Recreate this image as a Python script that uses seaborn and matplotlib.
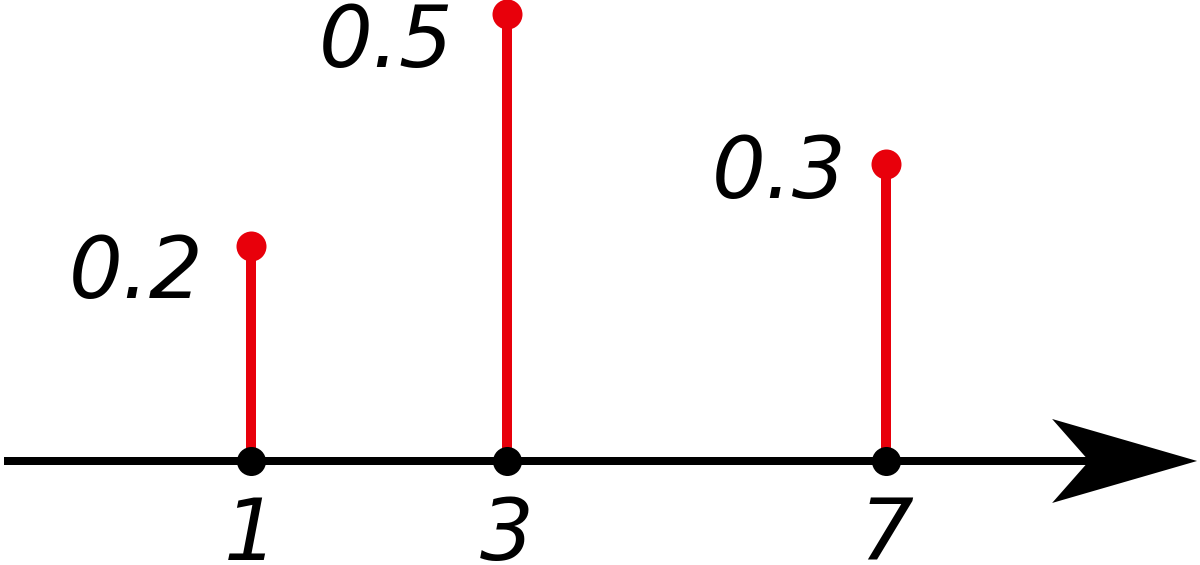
import numpy as np
import pandas as pd
import matplotlib
matplotlib.use("Agg")
import matplotlib.pyplot as plt
import seaborn as sns
from matplotlib.patches import Polygon
from matplotlib.transforms import IdentityTransform

# ---- data ----
outcomes = [1, 3, 7]
probabilities = [0.2, 0.5, 0.3]
prob_labels = ["0.2", "0.5", "0.3"]
tick_labels = ["1", "3", "7"]

# ---- style / layout ----
RED = "#e8000b"
label_offsets_px = [(-47, -52), (-53, -53), (-39, -34)]  # text offsets from dot (pixels)

sns.set_theme(style="white")
plt.rcParams["font.family"] = ["DejaVu Sans"]

df = pd.DataFrame({"outcome": outcomes, "probability": probabilities})
df["zero"] = 0.0

fig = plt.figure(figsize=(12, 5.65), dpi=100)
ax = fig.add_axes([0, 0, 1, 1])

def fwd(p):
    return lambda a: np.sign(a) * np.abs(a) ** p

def inv(p):
    return lambda a: np.sign(a) * np.abs(a) ** (1.0 / p)

ax.set_xscale("function", functions=(fwd(0.68), inv(0.68)))
ax.set_yscale("function", functions=(fwd(0.8), inv(0.8)))

# baseline axis (ends inside the arrow head)
axis_end = 11.0
ax.plot([-0.021, 9.9], [0, 0], color="black", lw=5.76,
        solid_capstyle="butt", zorder=1)

# stems
ax.vlines(df["outcome"], 0, df["probability"], color=RED, lw=7.2, zorder=2)

# red heads
sns.scatterplot(data=df, x="outcome", y="probability", ax=ax, color=RED,
                s=21.6 ** 2, linewidth=0, zorder=3, legend=False)
# black base dots
sns.scatterplot(data=df, x="outcome", y="zero", ax=ax, color="black",
                s=20.9 ** 2, linewidth=0, zorder=4, legend=False)
ax.set_xlim(-0.0285, 11.04)
ax.set_ylim(-0.0808, 0.5195)
ax.axis("off")

# probability labels
for x, p, lab, (dx, dy) in zip(outcomes, probabilities, prob_labels, label_offsets_px):
    ax.annotate(lab, (x, p), xytext=(dx, dy), textcoords="offset pixels",
                ha="right", va="baseline", fontsize=61, style="italic",
                color="black")

# outcome tick labels
for x, t in zip(outcomes, tick_labels):
    ax.annotate(t, (x, 0), xytext=(0, -99), textcoords="offset pixels",
                ha="center", va="baseline", fontsize=61, style="italic",
                color="black")

# arrow head (notched)
tip = ax.transData.transform((axis_end, 0))
verts = tip + np.array([[0, 0], [-145, 42], [-108, 0], [-145, -42]])
fig.add_artist(Polygon(verts, closed=True, transform=IdentityTransform(),
                       facecolor="black", edgecolor="none", zorder=5))

fig.savefig("out.png", dpi=100, facecolor="white")
